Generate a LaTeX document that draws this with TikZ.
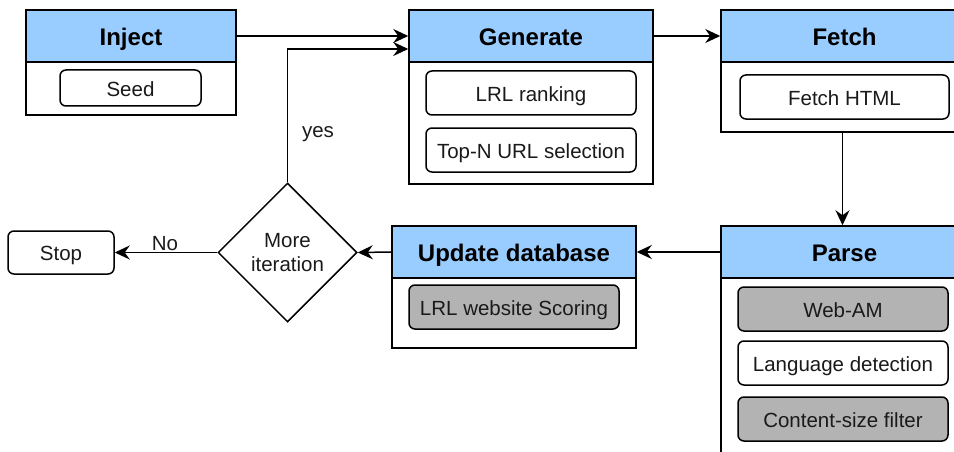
\documentclass[tikz,border=0pt]{standalone}
\usepackage{fontspec}
\setmainfont{Liberation Sans}
\usetikzlibrary{shapes.geometric,arrows.meta}
\definecolor{hdr}{HTML}{99CCFF}
\definecolor{gbox}{HTML}{B3B3B3}
\definecolor{txt}{HTML}{1A1A1A}
\begin{document}
\begin{tikzpicture}[x=1pt,y=-1pt,
 body/.style={draw, line width=1.5pt, fill=white, inner sep=0pt},
 hdrbox/.style={draw, line width=1.5pt, fill=hdr, inner sep=0pt, minimum height=52pt, text height=18.6pt, text depth=0pt, text=black, font=\bfseries\fontsize{24}{28}\selectfont},
 item/.style={draw, line width=1.5pt, rounded corners=6pt, fill=white, inner sep=0pt, minimum height=44pt, minimum width=210pt, text height=16.7pt, text depth=0pt, text=txt, font=\fontsize{20.5}{24}\selectfont},
 gitem/.style={item, fill=gbox},
 lbl/.style={font=\fontsize{20.5}{24}\selectfont, inner sep=0pt, text=txt},
 conn/.style={line width=1.5pt, -{Stealth[length=15pt,width=14pt,inset=5pt]}},
]
\useasboundingbox (0,0) rectangle (954,452);
\begin{scope}
\clip (0,0) rectangle (954,452);
% Inject
\node[body, minimum width=210pt, minimum height=105pt] (injb) at (131,62.5) {};
\node[hdrbox, minimum width=210pt] (injh) at (131,36) {Inject};
\node[item, minimum width=141pt, minimum height=36pt] (seed) at (130.5,88) {Seed};
% Generate
\node[body, minimum width=244pt, minimum height=174pt] (genb) at (531,97) {};
\node[hdrbox, minimum width=244pt] (genh) at (531,36) {Generate};
\node[item] (rank) at (531,93) {LRL ranking};
\node[item] (topn) at (531,150) {Top-N URL selection};
% Fetch
\node[body, minimum width=247pt, minimum height=122pt] (fetb) at (844.5,71) {};
\node[hdrbox, minimum width=247pt] (feth) at (844.5,36) {Fetch};
\node[item, minimum width=209pt] (html) at (844.5,97) {Fetch HTML};
% Update database
\node[body, minimum width=244pt, minimum height=122pt] (updb) at (514,287) {};
\node[hdrbox, minimum width=244pt] (updh) at (514,252) {Update database};
\node[gitem] (score) at (514,307) {LRL website Scoring};
% Parse
\node[body, minimum width=247pt, minimum height=254pt] (parb) at (844.5,353) {};
\node[hdrbox, minimum width=247pt] (parh) at (844.5,252) {Parse};
\node[gitem] (webam) at (843,309) {Web-AM};
\node[item] (lang) at (843,363) {Language detection};
\node[gitem] (size) at (843,419) {Content-size filter};
\end{scope}
% Decision and stop
\node[draw, diamond, line width=1.5pt, inner sep=0pt, minimum width=139pt, minimum height=139pt, align=center, text=txt, font=\fontsize{20.5}{24.4}\selectfont] (dec) at (287.5,252.5) {More\\iteration};
\node[item, minimum width=106pt, minimum height=43pt] (stop) at (61,252.5) {Stop};
\node[lbl] (yes) at (318,134) {yes};
\node[lbl] (no) at (165,244) {No};
% Connectors
\draw[conn] (injh.east) -- (genh.west);
\draw[conn] (dec.north) |- ([yshift=-13pt]genh.west);
\draw[conn] (genh.east) -- (feth.west);
\draw[conn] ([xshift=-2pt]fetb.south) -- ([xshift=-2pt]parh.north);
\draw[conn] (parh.west) -- (updh.east);
\draw[conn] (updh.west) -- (dec.east);
\draw[conn] (dec.west) -- (stop.east);
\end{tikzpicture}
\end{document}
